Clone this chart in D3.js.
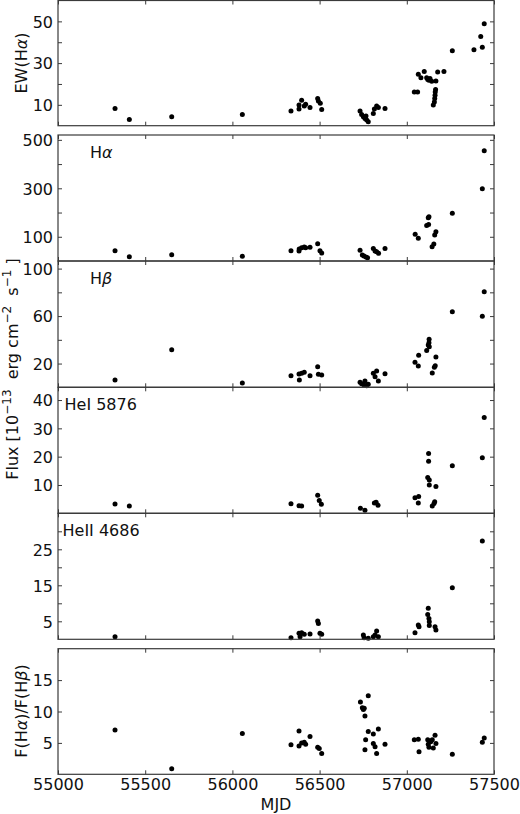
<!DOCTYPE html>
<html><head><meta charset="utf-8">
<script src="https://cdn.jsdelivr.net/npm/d3@7"></script>
<style>body{margin:0;background:#fff}svg{display:block}</style>
</head><body>
<script>
// ---- data ----
const xTicks = [55000,55500,56000,56500,57000,57500];

const mjdEW = [55327,55409,55652,56057,56336,56382,56382,56397,56412,56420,56445,56489,56493,56504,56512,56732,56741,56751,56760,56770,56779,56766,56808,56814,56827,56837,56875,57043,57062,57066,57081,57100,57114,57120,57127,57133,57143,57152,57158,57160,57162,57163,57165,57167,57177,57213,57261,57385,57424,57433,57444];
const ewHa = [8.3,3.0,4.3,5.4,7.0,8.0,9.9,12.2,9.4,10.3,8.7,13.0,11.8,10.7,7.8,7.0,5.4,4.3,3.5,2.7,1.9,4.6,5.9,8.0,9.4,8.7,8.3,16.2,16.2,24.6,23.0,26.0,23.0,22.2,21.8,22.6,21.3,9.9,11.4,13.0,14.6,16.2,17.3,21.4,25.7,26.0,35.9,36.4,42.7,37.6,48.8];

const mjdHa = [55327,55409,55652,56057,56336,56382,56383,56397,56412,56420,56445,56489,56502,56512,56732,56745,56754,56766,56775,56808,56818,56827,56838,56875,57048,57066,57114,57125,57123,57127,57145,57155,57160,57167,57261,57433,57444];
const fluxHa = [42.5,17.7,26,19.4,42.5,41,49.5,55,58,55,56.5,71.5,42.5,33,44,25,20.6,16.5,13.8,52,41,38.5,31.6,52,110,93.5,146,151,179,183,59,70,107,121,197,298,455];

const mjdHb = [55327,55652,56057,56336,56382,56384,56397,56412,56445,56489,56493,56512,56732,56741,56760,56755,56770,56779,56808,56818,56827,56837,56875,57047,57068,57066,57114,57123,57127,57128,57129,57146,57158,57163,57167,57261,57433,57444];
const fluxHb = [6.1,31.7,3.6,9.8,11.2,6.1,11.8,12.6,9.8,17.4,10.9,10.4,4.2,3.0,5.3,1.9,1.4,2.5,11.8,8.9,13.7,5.3,11.5,21.0,26.9,17.9,31.1,35.6,37.6,40.4,34.2,12.0,16.8,18.2,25.5,63.7,59.8,80.5];

const mjdHeI = [55327,55409,56336,56382,56397,56489,56498,56510,56734,56760,56814,56824,56835,57047,57068,57066,57120,57129,57125,57125,57129,57146,57156,57160,57167,57261,57433,57444];
const fluxHeI = [3.3,2.6,3.4,2.7,2.6,6.4,4.5,3.2,1.8,1.1,3.6,3.9,2.8,5.5,5.9,3.6,12.6,11.8,18.4,21.1,10.0,2.6,3.5,4.1,9.5,16.8,19.6,33.8];

const mjdHeII = [55327,56336,56382,56388,56397,56412,56445,56489,56493,56502,56512,56751,56755,56779,56808,56818,56827,56837,57047,57066,57070,57120,57123,57127,57129,57129,57162,57167,57261,57433];
const fluxHeII = [0.7,0.4,1.7,0.7,1.8,1.4,1.5,5.1,4.4,1.7,1.4,1.2,0.4,0.3,0.7,1.2,2.3,0.7,1.8,4.0,3.5,6.9,8.6,5.8,4.9,3.8,3.5,2.6,14.3,27.3];

const mjdRatio = [55327,55652,56057,56336,56382,56382,56397,56412,56420,56445,56489,56498,56512,56734,56745,56751,56756,56760,56779,56764,56760,56779,56808,56808,56818,56827,56837,56875,57043,57066,57070,57120,57123,57127,57137,57146,57152,57167,57162,57261,57433,57444];
const ratioHaHb = [7.07,0.9,6.5,4.7,6.9,4.5,5.0,5.1,4.8,6.0,4.3,4.1,3.3,11.5,10.6,10.3,10.5,9.3,12.5,5.5,3.9,6.8,6.4,4.9,4.4,3.3,7.2,4.8,5.5,5.6,3.6,5.5,4.8,4.3,5.2,5.5,4.2,4.9,6.2,3.2,5.1,5.8];

const ticksEW = [10,20,30,40,50],  labelsEW = [10,30,50];
const ticksHa = [100,200,300,400,500], labelsHa = [100,300,500];
const ticksHb = [20,40,60,80,100], labelsHb = [20,60,100];
const ticksHeI = [10,20,30,40], labelsHeI = [10,20,30,40];
const ticksHeII = [5,10,15,20,25,30], labelsHeII = [5,15,25];
const ticksRatio = [5,10,15], labelsRatio = [5,10,15];

// ---- layout ----
const W = 520, H = 814;
const FONT = "DejaVu Sans, sans-serif";
const svg = d3.select("body").append("svg").attr("width", W).attr("height", H)
  .style("font-family", FONT);

const x = d3.scaleLinear().domain([55000, 57500]).range([58, 494]);

const panels = [
  {xs: mjdEW, ys: ewHa, top: 0.5, bot: 125.7, dom: [0, 60], ticks: ticksEW, labels: labelsEW},
  {xs: mjdHa, ys: fluxHa, top: 135, bot: 261, dom: [0, 520], ticks: ticksHa, labels: labelsHa, name: "Ha", nx: 90},
  {xs: mjdHb, ys: fluxHb, top: 261, bot: 387.3, dom: [0, 106.4], ticks: ticksHb, labels: labelsHb, name: "Hb", nx: 90},
  {xs: mjdHeI, ys: fluxHeI, top: 387.3, bot: 513.3, dom: [0, 44.5], ticks: ticksHeI, labels: labelsHeI, name: "HeI 5876", nx: 64.5},
  {xs: mjdHeII, ys: fluxHeII, top: 513.3, bot: 639.3, dom: [0, 35], ticks: ticksHeII, labels: labelsHeII, name: "HeII 4686", nx: 62.5},
  {xs: mjdRatio, ys: ratioHaHb, top: 648.7, bot: 774.3, dom: [0, 20], ticks: ticksRatio, labels: labelsRatio, last: true}
];

const spine = "#3a3a3a";
const TL = 4;

panels.forEach(p => {
  const y = d3.scaleLinear().domain(p.dom).range([p.bot, p.top]);
  const g = svg.append("g");
  // points
  g.selectAll("circle").data(p.xs.map((d, i) => [d, p.ys[i]])).join("circle")
    .attr("cx", d => x(d[0])).attr("cy", d => y(d[1])).attr("r", 2.5).attr("fill", "#000");

  // left axis
  const yl = g.append("g").attr("transform", `translate(${x.range()[0]},0)`)
    .call(d3.axisLeft(y).tickValues(p.ticks).tickSizeInner(-TL).tickSizeOuter(0).tickPadding(5)
      .tickFormat(v => p.labels.includes(v) ? String(v) : ""));
  // right axis
  const yr = g.append("g").attr("transform", `translate(${x.range()[1]},0)`)
    .call(d3.axisRight(y).tickValues(p.ticks).tickSizeInner(-TL).tickSizeOuter(0).tickFormat(""));
  // top & bottom x ticks
  const xt = g.append("g").attr("transform", `translate(0,${p.top})`)
    .call(d3.axisTop(x).tickValues(xTicks).tickSizeInner(-TL).tickSizeOuter(0).tickFormat(""));
  const xb = g.append("g").attr("transform", `translate(0,${p.bot})`)
    .call(d3.axisBottom(x).tickValues(xTicks).tickSizeInner(-TL).tickSizeOuter(0).tickPadding(4)
      .tickFormat(p.last ? d3.format("d") : () => ""));
  [yl, yr, xt, xb].forEach(a => {
    a.select(".domain").remove();
    a.selectAll("line").attr("stroke", spine).attr("stroke-width", 1);
    a.selectAll("text").attr("font-size", 16).attr("fill", "#111").attr("font-family", FONT);
  });
  yl.selectAll("text").attr("dy", "0.36em");
  // frame
  g.append("rect").attr("x", x.range()[0]).attr("y", p.top)
    .attr("width", x.range()[1] - x.range()[0]).attr("height", p.bot - p.top)
    .attr("fill", "none").attr("stroke", spine).attr("stroke-width", 1.2);

  if (p.name) {
    const t = g.append("text").attr("x", p.nx).attr("y", p.top + 22.5)
      .attr("font-size", 16).attr("fill", "#111");
    if (p.name === "Ha") { t.append("tspan").text("H"); t.append("tspan").attr("font-style", "italic").text("α"); }
    else if (p.name === "Hb") { t.append("tspan").text("H"); t.append("tspan").attr("font-style", "italic").text("β"); }
    else t.text(p.name);
  }
});

// y-axis titles
function rotText(xp, yp) {
  return svg.append("text").attr("transform", `translate(${xp},${yp}) rotate(-90)`)
    .attr("text-anchor", "middle").attr("font-size", 16).attr("fill", "#111");
}
const t1 = rotText(27, 63);
t1.append("tspan").text("EW(H"); t1.append("tspan").attr("font-style", "italic").text("α"); t1.append("tspan").text(")");

const t2 = rotText(18, 369).attr("xml:space", "preserve").style("white-space", "pre");
t2.append("tspan").text("Flux [10");
t2.append("tspan").attr("font-size", 12).attr("dy", -7).text("−13");
t2.append("tspan").attr("dy", 7).text("  erg cm");
t2.append("tspan").attr("font-size", 12).attr("dy", -7).text("−2");
t2.append("tspan").attr("dy", 7).text("  s");
t2.append("tspan").attr("font-size", 12).attr("dy", -7).text("−1");
t2.append("tspan").attr("dy", 7).text(" ]");

const t3 = rotText(27, 711);
t3.append("tspan").text("F(H"); t3.append("tspan").attr("font-style", "italic").text("α");
t3.append("tspan").text(")/F(H"); t3.append("tspan").attr("font-style", "italic").text("β"); t3.append("tspan").text(")");

svg.append("text").attr("x", 276).attr("y", 810).attr("text-anchor", "middle")
  .attr("font-size", 16).attr("fill", "#111").text("MJD");
</script>
</body></html>
